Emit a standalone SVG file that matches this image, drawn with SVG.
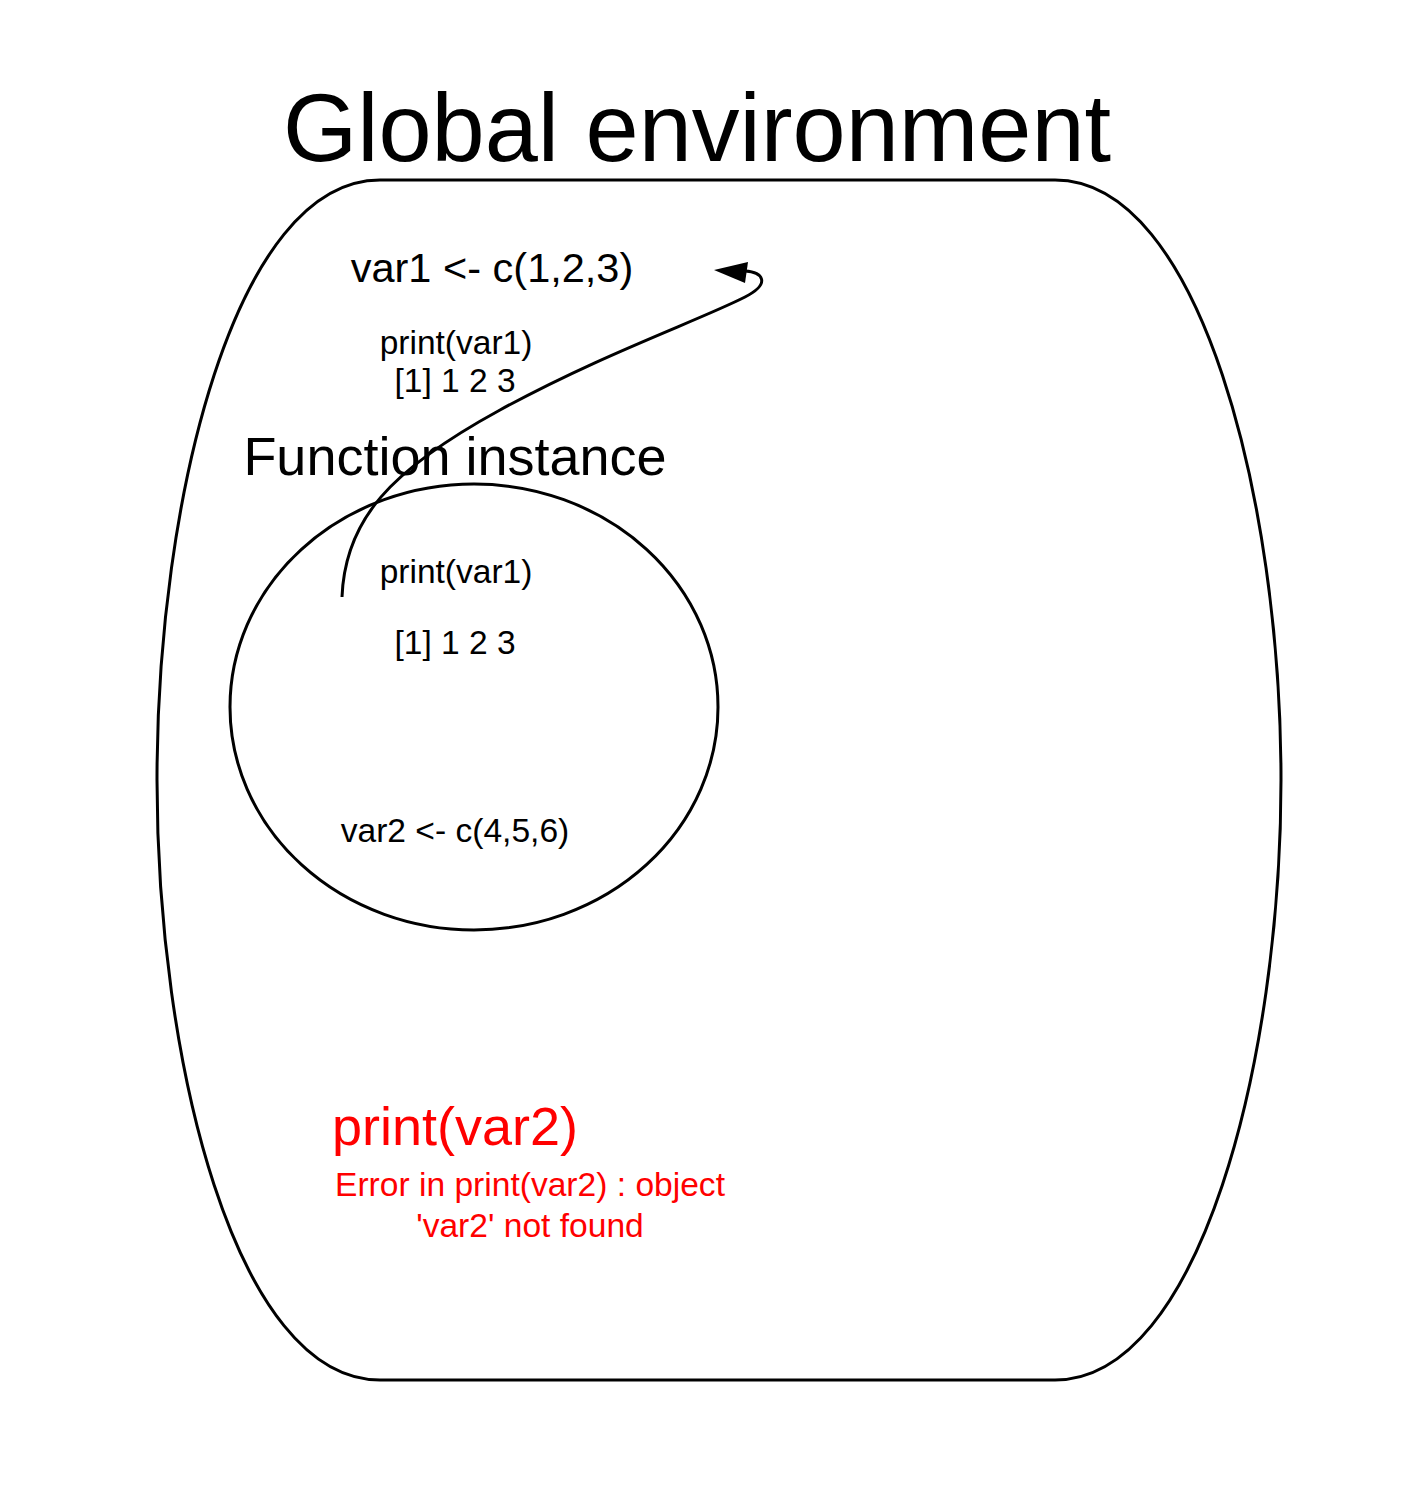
<svg xmlns="http://www.w3.org/2000/svg" width="1416" height="1488" viewBox="0 0 1416 1488">
<style>
.t{font-family:"Liberation Sans",Arial,sans-serif;fill:#000;text-anchor:middle}
.r{fill:#ff0000}
.s{fill:none;stroke:#000;stroke-width:3}
</style>
<rect width="1416" height="1488" fill="#fff"/>
<g id="global-env">
<path class="s" d="M380,180 L1055,180 C1200,180 1281,500 1281,780 C1281,1060 1200,1380 1055,1380 L380,1380 C235,1380 157,1060 157,780 C157,500 235,180 380,180 Z"/>
<text class="t" x="697" y="161" font-size="95.5">Global environment</text>
<text class="t" x="492" y="282" font-size="41.5">var1 &lt;- c(1,2,3)</text>
<text class="t" x="456" y="354" font-size="33.5">print(var1)</text>
<text class="t" x="455" y="392" font-size="33.5">[1] 1 2 3</text>
<text class="t r" x="455" y="1145" font-size="54">print(var2)</text>
<text class="t r" x="530" y="1196" font-size="33.6">Error in print(var2) : object</text>
<text class="t r" x="530" y="1237" font-size="33.6">'var2' not found</text>
</g>
<g id="function-instance">
<ellipse class="s" cx="474" cy="707" rx="244" ry="223"/>
<text class="t" x="455" y="475" font-size="54">Function instance</text>
<text class="t" x="456" y="583" font-size="33.5">print(var1)</text>
<text class="t" x="455" y="654" font-size="33.5">[1] 1 2 3</text>
<text class="t" x="455" y="842" font-size="33.6">var2 &lt;- c(4,5,6)</text>
</g>
<g id="connectors">
<path d="M342,597 C345,520 390,470 500,410 C600,355 700,320 745,297 C772,283 762,272 745,271" fill="none" stroke="#000" stroke-width="3"/>
<path d="M714,270 L748,262 L745,283 Z" fill="#000"/>
</g>
</svg>
